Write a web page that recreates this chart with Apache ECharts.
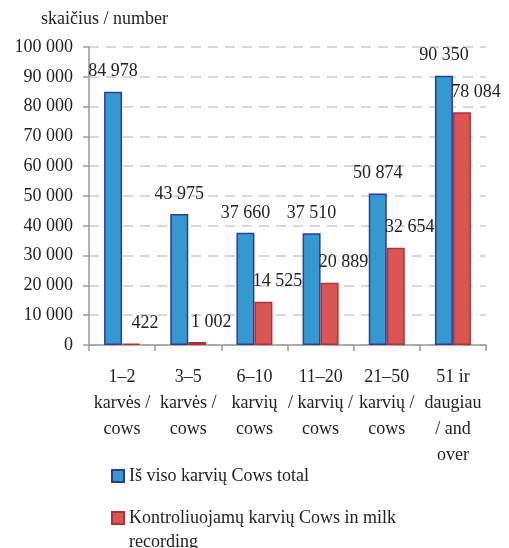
<!DOCTYPE html>
<html>
<head>
<meta charset="utf-8">
<script src="https://cdn.jsdelivr.net/npm/echarts@6/dist/echarts.min.js"></script>
<style>html,body{margin:0;padding:0;background:#fff}#c{width:509px;height:548px}</style>
</head>
<body>
<div id="c"></div>
<script>
const categories = [
  "1–2\nkarvės /\ncows",
  "3–5\nkarvės /\ncows",
  "6–10\nkarvių\ncows",
  "11–20\n/ karvių /\ncows",
  "21–50\nkarvių /\ncows",
  "51 ir\ndaugiau\n/ and\nover"
];
const cowsTotal = [84978, 43975, 37660, 37510, 50874, 90350];
const cowsRecording = [422, 1002, 14525, 20889, 32654, 78084];
const seriesNames = ["Iš viso karvių Cows total", "Kontroliuojamų karvių Cows in milk recording"];
const yTicks = { min: 0, max: 100000, interval: 10000 };

const FONT = '"Liberation Serif", "Times New Roman", serif';
const fmt = v => String(v).replace(/\B(?=(\d{3})+(?!\d))/g, ' ');
const legendText = { fontFamily: FONT, fontSize: 18, color: '#222', width: 290, overflow: 'break', lineHeight: 24 };

const chart = echarts.init(document.getElementById('c'));
chart.setOption({
  animation: false,
  textStyle: { fontFamily: FONT },
  title: {
    text: 'skaičius / number',
    left: 36, top: 5,
    textStyle: { fontFamily: FONT, fontSize: 18, fontWeight: 'normal', color: '#222' }
  },
  grid: { left: 89, right: 23, top: 47, bottom: 203 },
  legend: [
    {
      orient: 'vertical', left: 111, top: 464, padding: 0,
      itemWidth: 12, itemHeight: 12, icon: 'rect',
      data: [seriesNames[0]],
      textStyle: legendText
    },
    {
      orient: 'vertical', left: 111, top: 505, padding: 0,
      itemWidth: 12, itemHeight: 48,
      icon: 'path://M0 6h12v12h-12z M0 0L0 0 M0 48L0 48',
      data: [seriesNames[1]],
      textStyle: legendText
    }
  ],
  xAxis: {
    type: 'category',
    data: categories,
    axisLine: { lineStyle: { color: '#999', width: 1.5 } },
    axisTick: { show: true, length: 6, lineStyle: { color: '#999', width: 1.5 } },
    axisLabel: { margin: 19, fontFamily: FONT, fontSize: 18, color: '#222', lineHeight: 26, interval: 0 }
  },
  yAxis: {
    type: 'value',
    min: yTicks.min, max: yTicks.max, interval: yTicks.interval,
    axisLine: { show: true, lineStyle: { color: '#999', width: 1.5 } },
    axisTick: { show: true, length: 6, lineStyle: { color: '#999', width: 1.5 } },
    axisLabel: { margin: 16, fontFamily: FONT, fontSize: 18, color: '#222', formatter: v => fmt(v) },
    splitLine: { lineStyle: { color: '#ccc', type: [10, 7], width: 1.5 } }
  },
  series: [
    {
      name: seriesNames[0], type: 'bar', data: cowsTotal,
      barWidth: 18, barGap: '0%',
      itemStyle: { color: '#3598d0', borderColor: '#33399a', borderWidth: 1.5 },
      label: { show: true, position: 'top', distance: 11, fontFamily: FONT, fontSize: 18, color: '#222', formatter: p => fmt(p.value) }
    },
    {
      name: seriesNames[1], type: 'bar', data: cowsRecording,
      barWidth: 18,
      itemStyle: { color: '#da5653', borderColor: '#b03234', borderWidth: 1.5 },
      label: { show: true, position: 'top', distance: 11, offset: [14, 0], fontFamily: FONT, fontSize: 18, color: '#222', formatter: p => fmt(p.value) }
    }
  ]
});
</script>
</body>
</html>
